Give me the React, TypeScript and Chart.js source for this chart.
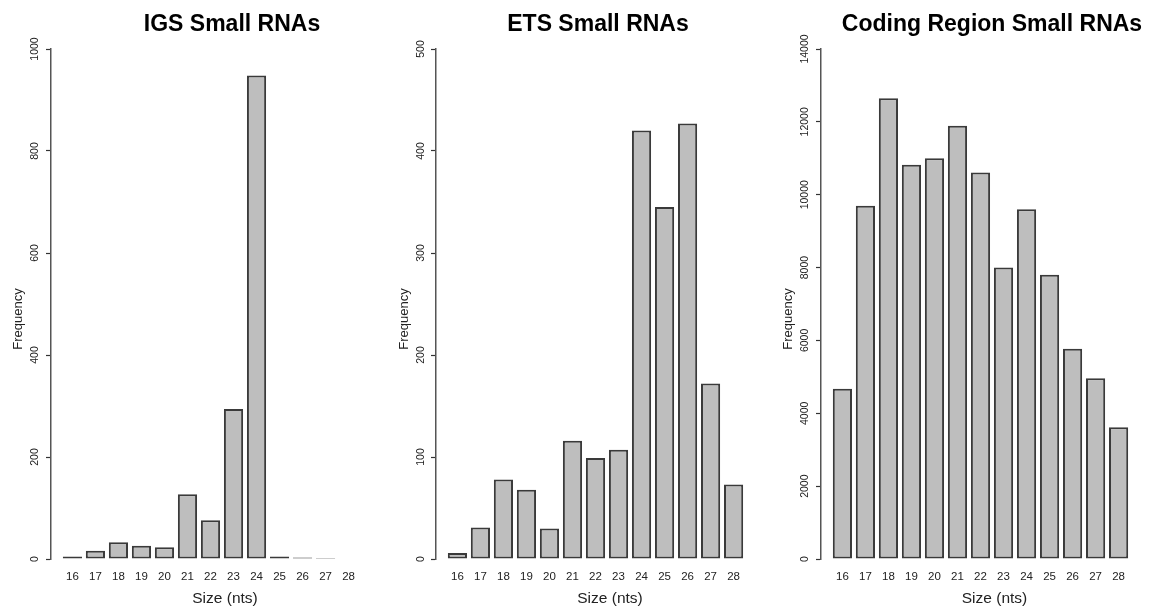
import React, { useEffect, useRef } from "react";
import { Chart, registerables } from "chart.js";

Chart.register(...registerables);

// ---- data ----
const sizes = [16, 17, 18, 19, 20, 21, 22, 23, 24, 25, 26, 27, 28];
const igsCounts = [5, 16, 33, 26, 23, 127, 76, 294, 948, 5, 3, 2, 1];
const etsCounts = [6, 31, 78, 68, 30, 116, 99, 107, 420, 345, 427, 172, 73];
const codingCounts = [4675, 9700, 12650, 10820, 11000, 11890, 10610, 8000, 9600, 7800, 5770, 4960, 3620];
const igsTicks = [0, 200, 400, 600, 800, 1000];
const etsTicks = [0, 100, 200, 300, 400, 500];
const codingTicks = [0, 2000, 4000, 6000, 8000, 10000, 12000, 14000];
const titles = ["IGS Small RNAs", "ETS Small RNAs", "Coding Region Small RNAs"];
const xTitle = "Size (nts)";
const yTitle = "Frequency";

// ---- layout ----
const W = 1153;
const H = 607;
const FONT = "'Liberation Sans', Arial, Helvetica, sans-serif";
const panels = [
  { counts: igsCounts, ticks: igsTicks, title: titles[0], left: 51, titleX: 232, xTitleX: 225, yLabelX: 37.5, yTitleX: 21.5 },
  { counts: etsCounts, ticks: etsTicks, title: titles[1], left: 436, titleX: 598, xTitleX: 610, yLabelX: 423.5, yTitleX: 408 },
  { counts: codingCounts, ticks: codingTicks, title: titles[2], left: 821, titleX: 992, xTitleX: 994.5, yLabelX: 808, yTitleX: 792 },
];
const PLOT_W = 319;
const TOP = 49;
const BOTTOM = 559;
const TICK_LEN = 5;

function Panel({ p }: { p: (typeof panels)[number] }) {
  const ref = useRef<HTMLCanvasElement | null>(null);
  useEffect(() => {
    const canvas = ref.current;
    if (!canvas) return;
    const textPlugin = {
      id: "texts" + p.left,
      afterDraw(chart: any) {
        const ctx = chart.ctx;
        const xs = chart.scales.x;
        const ys = chart.scales.y;
        ctx.save();
        ctx.fillStyle = "#000";
        ctx.textAlign = "center";
        ctx.textBaseline = "alphabetic";
        ctx.font = `bold 23px ${FONT}`;
        ctx.fillText(p.title, p.titleX, 31);
        ctx.fillStyle = "#222";
        ctx.font = `11.5px ${FONT}`;
        sizes.forEach((s) => ctx.fillText(String(s), xs.getPixelForValue(s), 580));
        ctx.font = `15.5px ${FONT}`;
        ctx.fillText(xTitle, p.xTitleX, 603);
        ctx.font = `10.5px ${FONT}`;
        p.ticks.forEach((t) => {
          ctx.save();
          ctx.translate(p.yLabelX, ys.getPixelForValue(t));
          ctx.rotate(-Math.PI / 2);
          ctx.fillText(String(t), 0, 0);
          ctx.restore();
        });
        ctx.font = `13px ${FONT}`;
        ctx.save();
        ctx.translate(p.yTitleX, 319);
        ctx.rotate(-Math.PI / 2);
        ctx.fillText(yTitle, 0, 0);
        ctx.restore();
        ctx.restore();
      },
    };
    const chart = new Chart(canvas, {
      type: "bar",
      data: {
        datasets: [
          {
            data: sizes.map((s, i) => ({ x: s, y: p.counts[i] })),
            backgroundColor: "#BEBEBE",
            borderColor: "#3a3a3a",
            borderWidth: 2,
            borderSkipped: false,
            categoryPercentage: 1,
            barPercentage: 1 / 1.2,
          },
        ],
      },
      options: {
        responsive: false,
        animation: false,
        events: [],
        layout: {
          padding: { left: p.left - TICK_LEN, right: W - p.left - PLOT_W, top: TOP, bottom: H - BOTTOM },
        },
        plugins: { legend: { display: false }, tooltip: { enabled: false }, title: { display: false } },
        scales: {
          x: {
            type: "linear",
            min: 15.07,
            max: 28.93,
            offset: false,
            display: false,
          },
          y: {
            type: "linear",
            min: p.ticks[0],
            max: p.ticks[p.ticks.length - 1],
            afterBuildTicks: (s: any) => {
              s.ticks = p.ticks.map((v) => ({ value: v }));
            },
            afterFit: (s: any) => {
              s.width = TICK_LEN;
            },
            ticks: { display: false },
            grid: { display: true, drawOnChartArea: false, drawTicks: true, tickLength: TICK_LEN, tickColor: "#333", tickWidth: 1.2 },
            border: { display: true, color: "#555", width: 1.5 },
          },
        },
      },
      plugins: [textPlugin],
    });
    return () => chart.destroy();
  }, [p]);
  return (
    <canvas
      ref={ref}
      width={W}
      height={H}
      style={{ position: "absolute", left: 0, top: 0, width: W, height: H }}
    />
  );
}

export default function App() {
  return (
    <div style={{ position: "absolute", left: 0, top: 0, width: W, height: H, background: "#fff", overflow: "hidden" }}>
      {panels.map((p, i) => (
        <Panel key={i} p={p} />
      ))}
    </div>
  );
}
